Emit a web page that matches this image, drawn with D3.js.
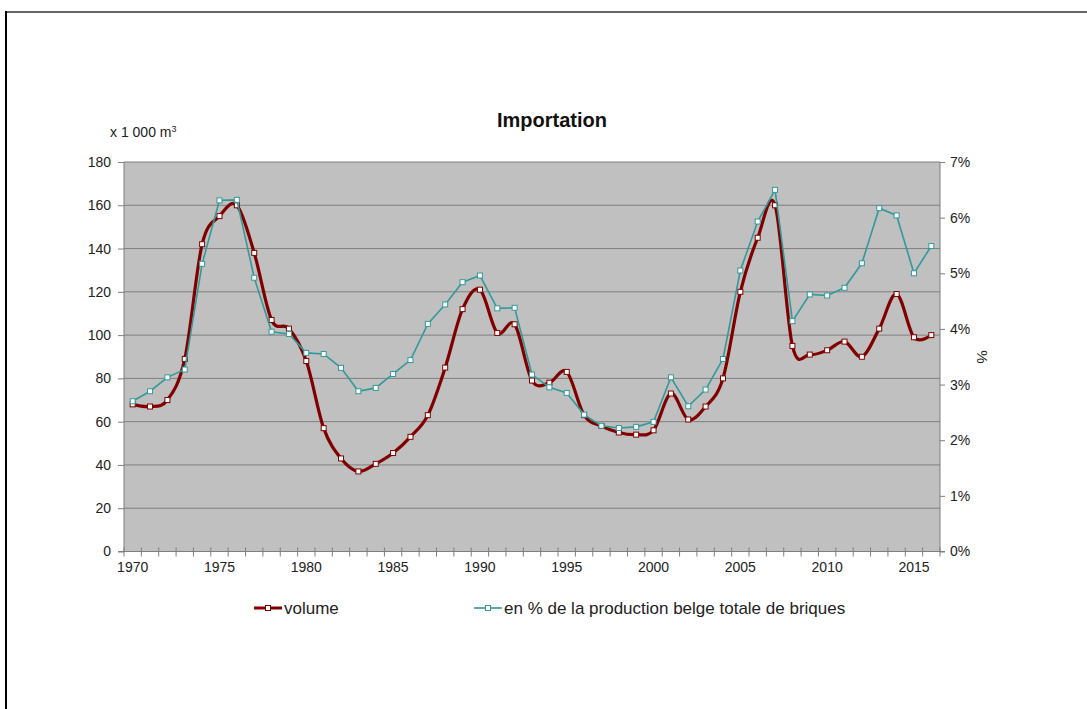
<!DOCTYPE html>
<html>
<head>
<meta charset="utf-8">
<script src="https://cdn.jsdelivr.net/npm/d3@7"></script>
<style>
  body { margin: 0; background: #fff; }
  svg { display: block; font-family: "Liberation Sans", Arial, sans-serif; }
</style>
</head>
<body>
<svg width="1087" height="709"></svg>
<script>
// categories
const years = [1970, 1971, 1972, 1973, 1974, 1975, 1976, 1977, 1978, 1979,
   1980, 1981, 1982, 1983, 1984, 1985, 1986, 1987, 1988, 1989,
   1990, 1991, 1992, 1993, 1994, 1995, 1996, 1997, 1998, 1999,
   2000, 2001, 2002, 2003, 2004, 2005, 2006, 2007, 2008, 2009,
   2010, 2011, 2012, 2013, 2014, 2015, 2016];

// volume, x 1 000 m3 (left axis)
const volume = [68, 67, 70, 89, 142, 155, 160, 138, 107, 103,
   88, 57, 43, 37, 40.5, 45.5, 53, 63, 85, 112,
   121, 101, 105, 79, 78, 83, 63, 58, 55, 54,
   56, 73, 61, 67, 80, 120, 145, 160, 95, 91,
   93, 97, 90, 103, 119, 99, 100];

// share of belgian brick production, % (right axis)
const share = [2.70, 2.88, 3.13, 3.27, 5.17, 6.31, 6.32, 4.92, 3.95, 3.91,
   3.57, 3.55, 3.30, 2.88, 2.94, 3.19, 3.44, 4.09, 4.44, 4.84,
   4.96, 4.37, 4.38, 3.18, 2.95, 2.85, 2.46, 2.26, 2.22, 2.24,
   2.33, 3.13, 2.61, 2.91, 3.46, 5.05, 5.93, 6.50, 4.14, 4.62,
   4.60, 4.74, 5.18, 6.17, 6.04, 5.00, 5.49];

const leftTicks = [0, 20, 40, 60, 80, 100, 120, 140, 160, 180];
const rightTicks = [0, 1, 2, 3, 4, 5, 6, 7];
const yearLabels = [1970, 1975, 1980, 1985, 1990, 1995, 2000, 2005, 2010, 2015];

const seriesNames = ["volume", "en % de la production belge totale de briques"];

const svg = d3.select("svg");
const pLeft = 124, pRight = 940, pTop = 162, pBottom = 551.5;
const RED = "#800000", TEAL = "#339999";

// frame
svg.append("line").attr("x1", 6).attr("x2", 1087).attr("y1", 12).attr("y2", 12)
   .attr("stroke", "#333").attr("stroke-width", 1.5);
svg.append("line").attr("x1", 6).attr("x2", 6).attr("y1", 11).attr("y2", 709)
   .attr("stroke", "#000").attr("stroke-width", 2);

var xScale = d3.scaleBand().domain(years).range([pLeft, pRight]).padding(0),
   yLeft = d3.scaleLinear().domain([0, 180]).range([pBottom, pTop]),
   yRight = d3.scaleLinear().domain([0, 7]).range([pBottom, pTop]);
const cx = d => xScale(d) + xScale.bandwidth() / 2;

// plot area
svg.append("rect").attr("x", pLeft).attr("y", pTop)
   .attr("width", pRight - pLeft).attr("height", pBottom - pTop).attr("fill", "#c0c0c0");

// gridlines
svg.append("g").selectAll("line").data(leftTicks.slice(1)).enter().append("line")
   .attr("x1", pLeft).attr("x2", pRight)
   .attr("y1", d => yLeft(d)).attr("y2", d => yLeft(d))
   .attr("stroke", "#7f7f7f").attr("stroke-width", 1);

// left axis
const gl = svg.append("g").attr("transform", "translate(" + pLeft + ",0)")
   .call(d3.axisLeft(yLeft).tickValues(leftTicks).tickSize(6).tickPadding(7));
// right axis
const gr = svg.append("g").attr("transform", "translate(" + pRight + ",0)")
   .call(d3.axisRight(yRight).tickValues(rightTicks).tickSize(5).tickPadding(5)
      .tickFormat(d => d + "%"));
// bottom axis: ticks between categories, labels every 5 years
const gb = svg.append("g").attr("transform", "translate(0," + pBottom + ")");
gb.append("line").attr("x1", pLeft - 6).attr("x2", pRight + 5).attr("stroke", "#7f7f7f");
gb.selectAll(".tk").data(years.concat([null])).enter().append("line")
   .attr("x1", (d, i) => pLeft + i * xScale.bandwidth())
   .attr("x2", (d, i) => pLeft + i * xScale.bandwidth())
   .attr("y1", -4).attr("y2", 5).attr("stroke", "#7f7f7f");
gb.selectAll("text").data(yearLabels).enter().append("text")
   .attr("x", d => cx(d)).attr("y", 20).attr("text-anchor", "middle")
   .attr("font-size", 14).attr("fill", "#222").text(d => d);

[gl, gr].forEach(g => {
   g.select(".domain").attr("stroke", "#7f7f7f");
   g.selectAll(".tick line").attr("stroke", "#7f7f7f");
   g.selectAll(".tick text").attr("font-size", 14).attr("fill", "#222")
      .attr("font-family", "Liberation Sans, Arial, sans-serif");
});
gl.select(".domain").attr("d", "M0," + pTop + "V" + pBottom);
gr.select(".domain").attr("d", "M0," + pTop + "V" + pBottom);

// titles
svg.append("text").attr("x", 552).attr("y", 127).attr("text-anchor", "middle")
   .attr("font-size", 20).attr("font-weight", "bold").attr("fill", "#111").text("Importation");
const unit = svg.append("text").attr("x", 110).attr("y", 137).attr("font-size", 14).attr("fill", "#222");
unit.append("tspan").text("x 1 000 m");
unit.append("tspan").attr("dy", -5).attr("font-size", 9).text("3");
svg.append("text").attr("transform", "translate(977,357) rotate(90)")
   .attr("text-anchor", "middle").attr("font-size", 15).attr("fill", "#222").text("%");

// series
svg.append("path").datum(years)
   .attr("fill", "none").attr("stroke", RED).attr("stroke-width", 3.2)
   .attr("d", d3.line().x(d => cx(d)).y((d, i) => yLeft(volume[i])).curve(d3.curveCardinal.tension(0)));
svg.append("g").selectAll("rect").data(years).enter().append("rect")
   .attr("x", d => cx(d) - 2.5).attr("y", (d, i) => yLeft(volume[i]) - 2.5)
   .attr("width", 5).attr("height", 5).attr("fill", "#fff").attr("stroke", RED).attr("stroke-width", 1);

svg.append("path").datum(years)
   .attr("fill", "none").attr("stroke", TEAL).attr("stroke-width", 1.6)
   .attr("d", d3.line().x(d => cx(d)).y((d, i) => yRight(share[i])));
svg.append("g").selectAll("rect").data(years).enter().append("rect")
   .attr("x", d => cx(d) - 2.5).attr("y", (d, i) => yRight(share[i]) - 2.5)
   .attr("width", 5).attr("height", 5).attr("fill", "#fff").attr("stroke", TEAL).attr("stroke-width", 1);

// legend
const legend = [
   { name: seriesNames[0], color: RED, w: 3, x: 254 },
   { name: seriesNames[1], color: TEAL, w: 1.6, x: 474 }
];
const lg = svg.append("g").selectAll("g").data(legend).enter().append("g")
   .attr("transform", d => "translate(" + d.x + ",608)");
lg.append("line").attr("x1", 0).attr("x2", 28).attr("stroke", d => d.color).attr("stroke-width", d => d.w);
lg.append("rect").attr("x", 11.5).attr("y", -2.5).attr("width", 5).attr("height", 5)
   .attr("fill", "#fff").attr("stroke", d => d.color);
lg.append("text").attr("x", 30).attr("y", 6).attr("font-size", 17).attr("fill", "#222").text(d => d.name);
</script>
</body>
</html>
